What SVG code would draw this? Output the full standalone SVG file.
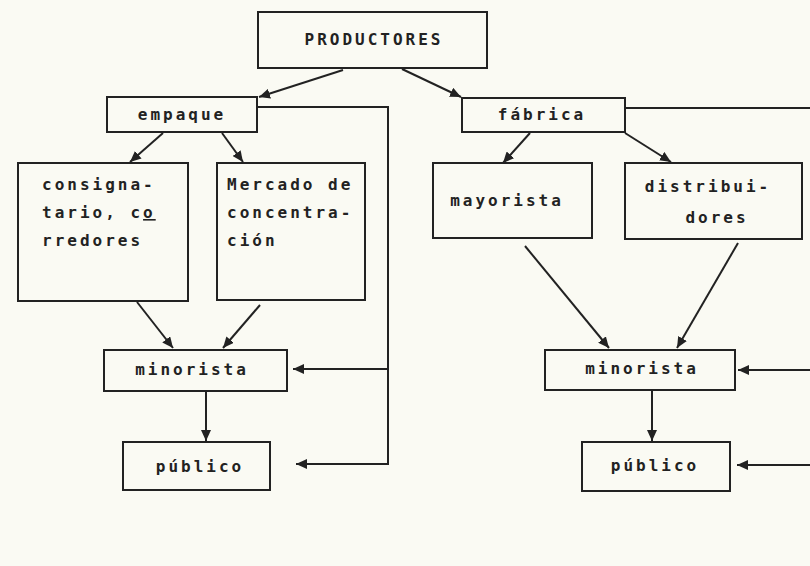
<svg xmlns="http://www.w3.org/2000/svg" width="810" height="566" viewBox="0 0 810 566">
<defs>
<style>
.box{fill:none;stroke:#222;stroke-width:2}
.t{font-family:"DejaVu Sans Mono","Liberation Mono",monospace;font-size:16px;font-weight:bold;letter-spacing:3px;fill:#222}
.c{text-anchor:middle}
.ln{fill:none;stroke:#222;stroke-width:2}
.ar{fill:none;stroke:#222;stroke-width:2;marker-end:url(#ah)}
</style>
<marker id="ah" markerUnits="userSpaceOnUse" markerWidth="12" markerHeight="10" refX="11" refY="5" orient="auto">
<path d="M0,0 L11,5 L0,10 z" fill="#222"/>
</marker>
</defs>
<rect x="0" y="0" width="810" height="566" fill="#fafaf3"/>

<g id="productores"><rect class="box" x="258" y="12" width="229" height="56"/><text class="t c" x="374" y="45">PRODUCTORES</text></g>
<g id="empaque"><rect class="box" x="107" y="97" width="150" height="35"/><text class="t c" x="182" y="120">empaque</text></g>
<g id="fabrica"><rect class="box" x="462" y="98" width="163" height="34"/><text class="t c" x="542" y="120">fábrica</text></g>
<g id="consignatario"><rect class="box" x="18" y="163" width="170" height="138"/>
<text class="t" x="42" y="190">consigna-</text>
<text class="t" x="42" y="218">tario, c<tspan text-decoration="underline">o</tspan></text>
<text class="t" x="42" y="246">rredores</text></g>
<g id="mercado"><rect class="box" x="217" y="163" width="148" height="137"/>
<text class="t" x="227" y="190">Mercado de</text>
<text class="t" x="227" y="218">concentra-</text>
<text class="t" x="227" y="246">ción</text></g>
<g id="mayorista"><rect class="box" x="433" y="163" width="159" height="75"/><text class="t c" x="507" y="206">mayorista</text></g>
<g id="distribuidores"><rect class="box" x="625" y="163" width="177" height="76"/>
<text class="t c" x="708" y="192">distribui-</text>
<text class="t c" x="717" y="223">dores</text></g>
<g id="minorista-izq"><rect class="box" x="104" y="350" width="183" height="41"/><text class="t c" x="192" y="375">minorista</text></g>
<g id="publico-izq"><rect class="box" x="123" y="442" width="147" height="48"/><text class="t c" x="200" y="472">público</text></g>
<g id="minorista-der"><rect class="box" x="545" y="350" width="190" height="40"/><text class="t c" x="642" y="374">minorista</text></g>
<g id="publico-der"><rect class="box" x="582" y="442" width="148" height="49"/><text class="t c" x="655" y="471">público</text></g>

<g id="connectors">
<line class="ar" x1="343" y1="70" x2="259" y2="97"/>
<line class="ar" x1="402" y1="69" x2="461" y2="97"/>
<line class="ar" x1="163" y1="133" x2="130" y2="162"/>
<line class="ar" x1="222" y1="133" x2="243" y2="162"/>
<line class="ar" x1="530" y1="133" x2="503" y2="163"/>
<line class="ar" x1="625" y1="133" x2="671" y2="162"/>
<line class="ar" x1="137" y1="302" x2="173" y2="348"/>
<line class="ar" x1="260" y1="305" x2="223" y2="348"/>
<polyline class="ln" points="258,107 388,107 388,465"/>
<line class="ar" x1="388" y1="369" x2="293" y2="369"/>
<line class="ar" x1="389" y1="464" x2="296" y2="464"/>
<line class="ar" x1="206" y1="391" x2="206" y2="441"/>
<line class="ln" x1="625" y1="108" x2="810" y2="108"/>
<line class="ar" x1="525" y1="246" x2="609" y2="348"/>
<line class="ar" x1="738" y1="243" x2="677" y2="348"/>
<line class="ar" x1="810" y1="370" x2="738" y2="370"/>
<line class="ar" x1="810" y1="465" x2="737" y2="465"/>
<line class="ar" x1="652" y1="391" x2="652" y2="441"/>
</g>
</svg>
